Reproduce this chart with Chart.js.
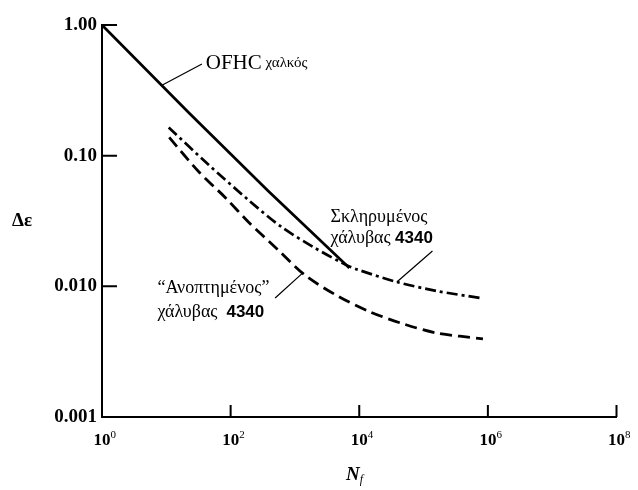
<!DOCTYPE html>
<html>
<head>
<meta charset="utf-8">
<script src="https://cdn.jsdelivr.net/npm/chart.js@4.4.1/dist/chart.umd.min.js"></script>
<style>
  html, body { margin: 0; padding: 0; background: #fff; }
</style>
</head>
<body>
<canvas id="c" width="638" height="490"></canvas>
<script>
// axis ticks (x labels are 10^exp)
const xTicks = [1, 1e2, 1e4, 1e6, 1e8];
const xTickExp = ['0', '2', '4', '6', '8'];
const yTicks = [0.001, 0.01, 0.1, 1];
const yTickLabels = ['0.001', '0.010', '0.10', '1.00'];

// OFHC copper (solid)
const ofhcN = [1, 22.6, 384, 7020];
const ofhcE = [1.0, 0.212, 0.0537, 0.0138];

// hardened 4340 steel (dash-dot)
const hardN = [10.9, 45.9, 189, 609, 2030, 5870, 9310, 38400, 158500, 838000];
const hardE = [0.164, 0.0849, 0.0458, 0.0286, 0.0197, 0.0148, 0.01346, 0.0108, 0.00922, 0.00808];

// annealed 4340 steel (dashed)
const annealN = [11.1, 32.2, 83.8, 189, 547, 1425, 4590, 14760, 49200, 158500, 838000];
const annealE = [0.138, 0.075, 0.0475, 0.0311, 0.0190, 0.0122, 0.00845, 0.00637, 0.00515, 0.00440, 0.00396];

const pts = (ns, es) => ns.map((n, i) => ({ x: n, y: es[i] }));

const SERIF = '"Liberation Serif", "DejaVu Serif", serif';
const SANS = '"Liberation Sans", Arial, sans-serif';

// leader lines, in data coords [N1, e1, N2, e2]
const leaders = [
  [8.7, 0.347, 35.8, 0.503],
  [137500, 0.01866, 38400, 0.0108],
  [492, 0.00815, 1327, 0.01267]
];

const overlay = {
  id: 'overlay',
  afterDraw(chart) {
    const { ctx, chartArea } = chart;
    const xs = chart.scales.x, ys = chart.scales.y;
    const px = n => xs.getPixelForValue(n);
    const py = e => ys.getPixelForValue(e);
    ctx.save();
    ctx.strokeStyle = '#000';
    ctx.fillStyle = '#000';

    // inward tick marks
    ctx.lineWidth = 2;
    ctx.beginPath();
    xTicks.slice(1).forEach(v => {
      ctx.moveTo(px(v), chartArea.bottom);
      ctx.lineTo(px(v), chartArea.bottom - 12);
    });
    yTicks.slice(1).forEach(v => {
      ctx.moveTo(chartArea.left, py(v));
      ctx.lineTo(chartArea.left + 15, py(v));
    });
    ctx.stroke();

    // exponents of the x tick labels
    ctx.font = 'bold 17px ' + SERIF;
    const half = ctx.measureText('10').width / 2;
    ctx.font = '11px ' + SERIF;
    ctx.textAlign = 'left';
    ctx.textBaseline = 'top';
    xTicks.forEach((v, i) => {
      ctx.fillText(xTickExp[i], px(v) + half, xs.top + 13);
    });

    // leaders
    ctx.lineWidth = 1.2;
    ctx.beginPath();
    leaders.forEach(l => {
      ctx.moveTo(px(l[0]), py(l[1]));
      ctx.lineTo(px(l[2]), py(l[3]));
    });
    ctx.stroke();

    ctx.textBaseline = 'middle';
    const put = (parts, x, y) => {
      parts.forEach(p => {
        ctx.font = p[1];
        ctx.fillText(p[0], x, y);
        x += ctx.measureText(p[0]).width;
      });
    };
    put([['OFHC', '21px ' + SERIF], [' χαλκός', '15px ' + SERIF]], px(41), py(0.512));
    put([['Σκληρυμένος', '18px ' + SERIF]], px(3580), py(0.034));
    put([['χάλυβας ', '18px ' + SERIF], ['4340', 'bold 17px ' + SANS]], px(3580), py(0.0235));
    put([['“Ανοπτημένος”', '18px ' + SERIF]], px(7.27), py(0.00972));
    put([['χάλυβας  ', '18px ' + SERIF], ['4340', 'bold 17px ' + SANS]], px(7.27), py(0.00637));

    // axis titles
    ctx.font = 'bold 19px ' + SERIF;
    ctx.fillText('Δε', 12, (chartArea.top + chartArea.bottom) / 2);
    ctx.font = 'italic bold 19px ' + SERIF;
    ctx.fillText('N', 346, chartArea.bottom + 58);
    const nw = ctx.measureText('N').width;
    ctx.font = 'italic 12px ' + SERIF;
    ctx.fillText('f', 346 + nw, chartArea.bottom + 63);
    ctx.restore();
  }
};

new Chart(document.getElementById('c').getContext('2d'), {
  type: 'scatter',
  data: {
    datasets: [{
      label: 'OFHC',
      data: pts(ofhcN, ofhcE),
      showLine: true,
      borderColor: '#000',
      borderWidth: 2.7,
      pointRadius: 0,
      tension: 0
    }, {
      label: 'hardened',
      data: pts(hardN, hardE),
      showLine: true,
      borderColor: '#000',
      borderWidth: 2.7,
      borderDash: [11, 4, 3, 4],
      pointRadius: 0,
      tension: 0.3
    }, {
      label: 'annealed',
      data: pts(annealN, annealE),
      showLine: true,
      borderColor: '#000',
      borderWidth: 2.8,
      borderDash: [12, 6],
      pointRadius: 0,
      tension: 0.3
    }]
  },
  options: {
    responsive: false,
    animation: false,
    layout: { padding: { top: 25, right: 16, left: 0, bottom: 0 } },
    plugins: {
      legend: { display: false },
      tooltip: { enabled: false }
    },
    scales: {
      x: {
        type: 'logarithmic',
        min: 1,
        max: 1e8,
        grid: { display: false, drawTicks: false },
        border: { display: true, color: '#000', width: 2 },
        ticks: {
          color: '#000',
          padding: 13,
          maxRotation: 0,
          autoSkip: false,
          font: { family: SERIF, size: 17, weight: 'bold' },
          callback: () => '10'
        },
        afterBuildTicks: s => { s.ticks = xTicks.map(v => ({ value: v })); },
        afterFit: s => { s.height = 73; }
      },
      y: {
        type: 'logarithmic',
        min: 0.001,
        max: 1,
        grid: { display: false, drawTicks: false },
        border: { display: true, color: '#000', width: 2 },
        ticks: {
          color: '#000',
          padding: 5,
          autoSkip: false,
          font: { family: SERIF, size: 19, weight: 'bold' },
          callback: (v, i) => yTickLabels[i]
        },
        afterBuildTicks: s => { s.ticks = yTicks.map(v => ({ value: v })); },
        afterFit: s => { s.width = 102; }
      }
    }
  },
  plugins: [overlay]
});
</script>
</body>
</html>
